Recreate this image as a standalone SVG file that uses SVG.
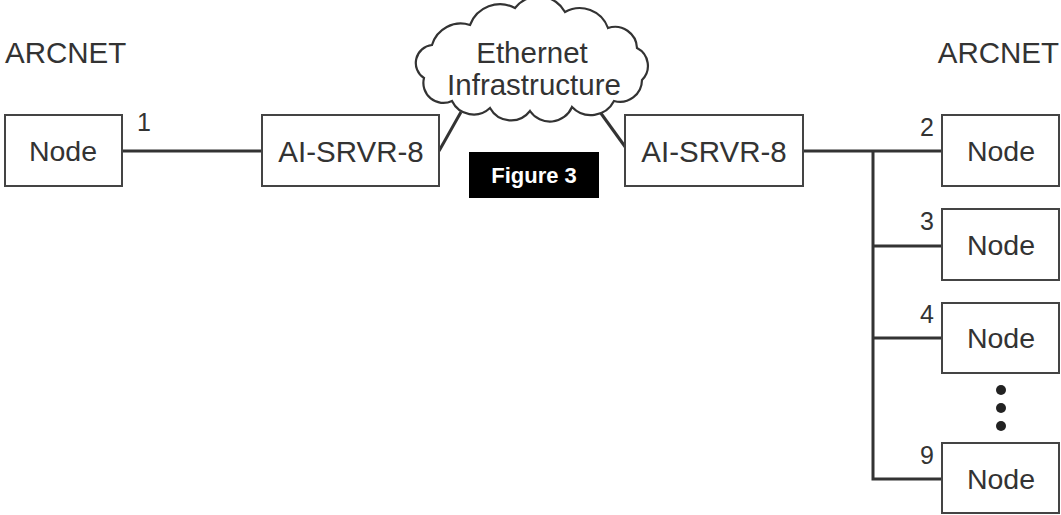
<svg xmlns="http://www.w3.org/2000/svg" width="1061" height="515" viewBox="0 0 1061 515">
<style>
.box{fill:#fff;stroke:#444;stroke-width:2}
.t{font-family:"Liberation Sans",Arial,sans-serif;font-size:28.5px;fill:#333}
.big{font-size:29.5px}
.num{font-size:25px}
.c{text-anchor:middle}
.ln{stroke:#333;stroke-width:3;fill:none}
</style>
<rect width="1061" height="515" fill="#fff"/>
<text class="t big" x="5" y="63">ARCNET</text>
<text class="t big" x="1059" y="63" text-anchor="end">ARCNET</text>
<g id="connectors">
<line class="ln" x1="122" y1="151" x2="262" y2="151"/>
<line class="ln" x1="439" y1="151" x2="461" y2="112" stroke-width="2.5"/>
<line class="ln" x1="600" y1="112" x2="626" y2="148" stroke-width="2.5"/>
<line class="ln" x1="803" y1="151" x2="942" y2="151"/>
<polyline class="ln" points="873,151 873,479 942,479"/>
<line class="ln" x1="873" y1="246" x2="942" y2="246"/>
<line class="ln" x1="873" y1="338" x2="942" y2="338"/>
<text class="t num" x="137" y="131">1</text>
<text class="t num" x="920" y="136">2</text>
<text class="t num" x="920" y="230">3</text>
<text class="t num" x="920" y="323">4</text>
<text class="t num" x="920" y="464">9</text>
</g>
<g id="cloud">
<path d="M424,78 A18,18 0 0 1 432,45 A30,30 0 0 1 470,25 A32,32 0 0 1 515,8 A30,30 0 0 1 565,12 A30,30 0 0 1 608,28 A22,22 0 0 1 637,48 A20,20 0 0 1 642,80 A22,22 0 0 1 614,101 A26,26 0 0 1 572,107 A24,24 0 0 1 530,111 A24,24 0 0 1 490,108 A24,24 0 0 1 452,101 A20,20 0 0 1 424,78 Z" fill="#fff" stroke="#333" stroke-width="2.2"/>
<text class="t c big" x="532" y="63">Ethernet</text>
<text class="t c big" x="534" y="95">Infrastructure</text>
</g>
<g id="node-left">
<rect class="box" x="5" y="115" width="117" height="71"/>
<text class="t c" x="63" y="161">Node</text>
</g>
<g id="srvr-left">
<rect class="box" x="262" y="115" width="177" height="71"/>
<text class="t c big" x="351" y="162">AI-SRVR-8</text>
</g>
<g id="srvr-right">
<rect class="box" x="625" y="115" width="178" height="71"/>
<text class="t c big" x="714" y="162">AI-SRVR-8</text>
</g>
<g id="figure-label">
<rect x="469" y="152" width="130" height="46" fill="#000"/>
<text x="534" y="183" text-anchor="middle" style="font-family:'Liberation Sans',Arial,sans-serif;font-size:22px;font-weight:bold;fill:#fff">Figure 3</text>
</g>
<g id="node-2">
<rect class="box" x="942" y="115" width="117" height="71"/>
<text class="t c" x="1001" y="161">Node</text>
</g>
<g id="node-3">
<rect class="box" x="942" y="209" width="117" height="71"/>
<text class="t c" x="1001" y="255">Node</text>
</g>
<g id="node-4">
<rect class="box" x="942" y="303" width="117" height="70"/>
<text class="t c" x="1001" y="348">Node</text>
</g>
<g id="ellipsis">
<circle cx="1001" cy="390" r="5" fill="#222"/>
<circle cx="1001" cy="408" r="5" fill="#222"/>
<circle cx="1001" cy="426" r="5" fill="#222"/>
</g>
<g id="node-9">
<rect class="box" x="942" y="443" width="117" height="70"/>
<text class="t c" x="1001" y="489">Node</text>
</g>
</svg>
